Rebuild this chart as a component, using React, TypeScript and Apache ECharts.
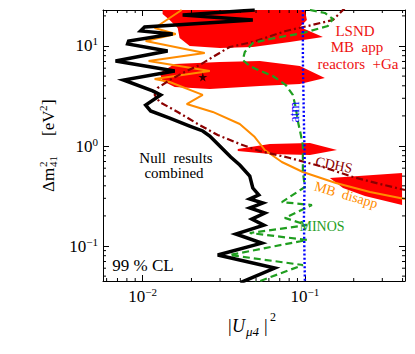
import React, { useEffect, useRef } from 'react';
import * as echarts from 'echarts';

const SERIF = "'Liberation Serif', 'DejaVu Serif', serif";

// axis ranges (|U_mu4|^2 horizontally, Delta m^2_41 vertically)
const X_MIN = 0.0057;
const X_MAX = 0.414;
const Y_MIN = 0.0447;
const Y_MAX = 22.9;

const xMinorTicks = [0.006, 0.007, 0.008, 0.009, 0.02, 0.03, 0.04, 0.05, 0.06, 0.07, 0.08, 0.09, 0.2, 0.3, 0.4];
const yMinorTicks = [0.05, 0.06, 0.07, 0.08, 0.09, 0.2, 0.3, 0.4, 0.5, 0.6, 0.7, 0.8, 0.9, 2, 3, 4, 5, 6, 7, 8, 9, 20];

// Null results combined (black)
const nullCombined: number[][] = [
  [0.0491, 22.9], [0.01765, 20.42], [0.04776, 18.2], [0.01029, 15.49], [0.00972, 14.13],
  [0.01532, 13.18], [0.0082, 11.22], [0.00808, 10.47], [0.01426, 8.91], [0.00681, 7.08],
  [0.01577, 5.62], [0.00763, 4.57], [0.01153, 3.55], [0.01292, 3.24], [0.01044, 2.57],
  [0.0112, 2.24], [0.01468, 1.905], [0.01951, 1.585], [0.02347, 1.413], [0.02593, 1.259],
  [0.02988, 1.0], [0.03491, 0.776], [0.0397, 0.646], [0.04575, 0.501], [0.04776, 0.38],
  [0.05199, 0.324], [0.04575, 0.295], [0.05505, 0.269], [0.04575, 0.24], [0.05663, 0.214],
  [0.04708, 0.186], [0.05584, 0.162], [0.03752, 0.132], [0.05426, 0.107], [0.02904, 0.0813],
  [0.06524, 0.0603], [0.04, 0.043],
];

// MB disapp (orange)
const mbDisapp: number[][] = [
  [0.0174, 22.9], [0.01186, 15.14], [0.016, 13.18], [0.01044, 11.22], [0.02414, 8.51],
  [0.01089, 7.08], [0.02593, 5.62], [0.01186, 4.68], [0.01468, 4.37], [0.02347, 3.24],
  [0.01869, 2.63], [0.02706, 2.19], [0.0397, 1.66], [0.04913, 1.23], [0.05663, 0.912],
  [0.0721, 0.692], [0.09718, 0.55], [0.1553, 0.427], [0.252, 0.347], [0.4137, 0.295],
];

// CDHS (dark red dash-dot)
const cdhs: number[][] = [
  [0.1765, 23.99], [0.1489, 18.2], [0.1044, 15.85], [0.07631, 14.13], [0.04776, 10.96],
  [0.03441, 9.77], [0.02706, 7.76], [0.02249, 6.46], [0.01815, 5.5], [0.01468, 4.57],
  [0.01238, 3.8], [0.01186, 3.24], [0.01274, 2.75], [0.01645, 2.19], [0.02186, 1.66],
  [0.02904, 1.288], [0.0397, 1.047], [0.05274, 0.891], [0.08079, 0.759], [0.1237, 0.631],
  [0.1978, 0.49], [0.2904, 0.417], [0.4137, 0.363],
];

// MINOS (green dashed)
const minos: number[][] = [
  [0.1074, 22.9], [0.1328, 21.38], [0.1489, 18.62], [0.1386, 15.85], [0.09718, 13.49],
  [0.06079, 11.75], [0.04776, 10.72], [0.04263, 8.71], [0.04144, 7.24], [0.04575, 6.31],
  [0.04984, 5.89], [0.06341, 5.01], [0.07631, 4.07], [0.0843, 3.24], [0.08795, 2.4],
  [0.09049, 1.778], [0.09445, 1.288], [0.09718, 1.023], [0.09718, 0.55], [0.1, 0.389],
  [0.0721, 0.275], [0.1105, 0.257], [0.07522, 0.191], [0.1029, 0.162], [0.04575, 0.135],
  [0.1029, 0.115], [0.03441, 0.0813], [0.09718, 0.0646], [0.04913, 0.0427],
];

// atmospheric (blue dotted)
const atm: number[][] = [
  [0.0972, 22.9], [0.0972, 7.24], [0.0986, 1.82], [0.1, 0.575], [0.0986, 0.182], [0.1, 0.0447],
];

// LSND + MB app + reactors + Ga allowed regions (red)
const regionTop: number[][] = [
  [0.01328, 22.9], [0.1, 22.9], [0.1029, 18.2], [0.09311, 15.49], [0.1292, 12.3],
  [0.08079, 10.96], [0.04776, 9.77], [0.02988, 9.55], [0.01951, 10.0], [0.01691, 12.02],
  [0.01645, 15.14], [0.01468, 18.2], [0.01328, 20.89],
];
const regionMid: number[][] = [
  [0.01274, 5.37], [0.01577, 6.61], [0.02988, 6.92], [0.05274, 7.08], [0.09311, 6.31],
  [0.1328, 4.79], [0.09311, 4.17], [0.05274, 3.98], [0.02593, 3.72], [0.01577, 3.89],
  [0.01328, 4.47],
];
const regionThin: number[][] = [
  [0.03859, 0.933], [0.06079, 1.047], [0.1074, 1.072], [0.1577, 0.912], [0.1074, 0.813],
  [0.06079, 0.832], [0.03859, 0.891],
];
const regionLow: number[][] = [
  [0.1426, 0.479], [0.3971, 0.537], [0.3971, 0.257], [0.2344, 0.316], [0.1718, 0.38],
];
const regions = [regionTop, regionMid, regionThin, regionLow];

const bestFit: number[][] = [[0.0235, 4.9]];

const STAR = 'path://M50,0 L61,35 L98,35 L68,57 L79,91 L50,70 L21,91 L32,57 L2,35 L39,35 Z';

function powLabel(v: number) {
  const l = Math.log10(v);
  const e = Math.round(l);
  if (Math.abs(l - e) > 1e-6) return '';
  const s = e < 0 ? '\u2212' + -e : String(e);
  return `{b|10}{s|${s}}`;
}

const labelRich = {
  b: { fontSize: 17, fontFamily: SERIF, color: '#000', lineHeight: 20 },
  s: { fontSize: 11, fontFamily: SERIF, color: '#000', lineHeight: 12, verticalAlign: 'top' },
};

function logAxis(kind: 'x' | 'y', pos: string, labels: boolean) {
  return {
    type: 'log',
    logBase: 10,
    min: kind === 'x' ? X_MIN : Y_MIN,
    max: kind === 'x' ? X_MAX : Y_MAX,
    position: pos,
    axisLine: { show: true, onZero: false, lineStyle: { color: '#000', width: 1 } },
    axisTick: { show: true, inside: true, length: 6, lineStyle: { color: '#000', width: 1 } },
    minorTick: { show: false },
    splitLine: { show: false },
    axisLabel: labels
      ? { show: true, margin: kind === 'x' ? 5 : 5, formatter: powLabel, rich: labelRich }
      : { show: false },
  };
}

function txt(text: string, x: number, y: number, color: string, size: number, rotation = 0, italic = false, align = 'center') {
  return {
    type: 'text',
    x,
    y,
    rotation,
    z: 100,
    style: {
      text,
      fill: color,
      fontSize: size,
      fontFamily: SERIF,
      fontStyle: italic ? 'italic' : 'normal',
      align,
      verticalAlign: 'middle',
    },
  };
}

export default function App() {
  const ref = useRef<HTMLDivElement>(null);
  useEffect(() => {
    const chart = echarts.init(ref.current!, null, { renderer: 'svg' });
    const option: any = {
      animation: false,
      backgroundColor: '#fff',
      grid: { left: 103, right: 10, top: 10, bottom: 73, containLabel: false, outerBoundsMode: 'none' },
      xAxis: [logAxis('x', 'bottom', true), logAxis('x', 'top', false)],
      yAxis: [logAxis('y', 'left', true), logAxis('y', 'right', false)],
      series: [
        {
          type: 'custom',
          silent: true,
          data: regions.map((r) => [r[0][0], r[0][1]]),
          renderItem: (params: any, api: any) => {
            const poly = regions[params.dataIndex];
            return {
              type: 'polygon',
              shape: { points: poly.map((p) => api.coord(p)) },
              style: { fill: '#ff0000', stroke: 'none' },
            };
          },
          z: 1,
        },
        {
          type: 'line', data: mbDisapp, symbol: 'none', z: 3,
          lineStyle: { color: '#ff8c00', width: 2 },
        },
        {
          type: 'line', data: cdhs, symbol: 'none', z: 3,
          lineStyle: { color: '#8b0000', width: 2.2, type: [7, 3, 2, 3] },
        },
        {
          type: 'line', data: minos, symbol: 'none', z: 3,
          lineStyle: { color: '#1f9e1f', width: 2.2, type: [7, 4] },
        },
        {
          type: 'line', data: atm, symbol: 'none', z: 3,
          lineStyle: { color: '#0000ff', width: 2.4, type: [2, 2.2] },
        },
        {
          type: 'line', data: nullCombined, symbol: 'none', z: 4,
          lineStyle: { color: '#000', width: 3.5, join: 'miter', miterLimit: 4 },
        },
        {
          type: 'scatter', data: bestFit, symbol: STAR, symbolSize: 9, z: 5,
          itemStyle: { color: '#000' },
        },
        {
          type: 'custom',
          silent: true,
          data: xMinorTicks.map((v) => [v, 1]),
          renderItem: (params: any, api: any) => {
            const v = api.value(0);
            const b = api.coord([v, Y_MIN]);
            const t = api.coord([v, Y_MAX]);
            return {
              type: 'group',
              children: [
                { type: 'line', shape: { x1: b[0], y1: b[1], x2: b[0], y2: b[1] - 3 }, style: { stroke: '#000', lineWidth: 1 } },
                { type: 'line', shape: { x1: t[0], y1: t[1], x2: t[0], y2: t[1] + 3 }, style: { stroke: '#000', lineWidth: 1 } },
              ],
            };
          },
          z: 6,
        },
        {
          type: 'custom',
          silent: true,
          data: yMinorTicks.map((v) => [0.01, v]),
          renderItem: (params: any, api: any) => {
            const v = api.value(1);
            const l = api.coord([X_MIN, v]);
            const r = api.coord([X_MAX, v]);
            return {
              type: 'group',
              children: [
                { type: 'line', shape: { x1: l[0], y1: l[1], x2: l[0] + 3, y2: l[1] }, style: { stroke: '#000', lineWidth: 1 } },
                { type: 'line', shape: { x1: r[0], y1: r[1], x2: r[0] - 3, y2: r[1] }, style: { stroke: '#000', lineWidth: 1 } },
              ],
            };
          },
          z: 6,
        },
      ],
      graphic: [
        txt('LSND', 355, 31, '#ee1111', 15),
        txt('MB  app', 357, 47, '#ee1111', 15),
        txt('reactors  +Ga', 358, 64, '#ee1111', 15),
        txt('Null  results', 176, 158, '#000', 15),
        txt('combined', 174, 173, '#000', 15),
        txt('99 % CL', 143, 265, '#000', 17),
        txt('MINOS', 322, 226, '#1f9e1f', 14),
        txt('CDHS', 334, 165, '#8b0000', 14, -0.2),
        txt('MB  disapp', 346, 195, '#ff8c00', 14, -0.28),
        txt('atm', 294, 112, '#0000ff', 14, Math.PI / 2),
        // x axis title |U_mu4|^2
        txt('|', 228, 326, '#000', 18, 0, false, 'left'),
        txt('U', 232, 326, '#000', 18, 0, true, 'left'),
        txt('\u03bc4', 246, 331, '#000', 13, 0, true, 'left'),
        txt('|', 264, 326, '#000', 18, 0, false, 'left'),
        txt('2', 270, 317, '#000', 12, 0, false, 'left'),
        // y axis title Delta m^2_41 [eV^2]
        {
          type: 'group',
          x: 48,
          y: 146,
          rotation: Math.PI / 2,
          children: [
            txt('\u0394m', -46, 0, '#000', 17, 0, false, 'left'),
            txt('2', -21, -5, '#000', 11, 0, false, 'left'),
            txt('41', -21, 5, '#000', 11, 0, false, 'left'),
            txt('[eV', 10, 0, '#000', 17, 0, false, 'left'),
            txt('2', 35, -5, '#000', 11, 0, false, 'left'),
            txt(']', 41, 0, '#000', 17, 0, false, 'left'),
          ],
        },
      ],
    };
    chart.setOption(option);
    return () => chart.dispose();
  }, []);
  return (
    <div
      ref={ref}
      style={{ position: 'fixed', left: 0, top: 0, width: 415, height: 354, background: '#fff' }}
    />
  );
}
